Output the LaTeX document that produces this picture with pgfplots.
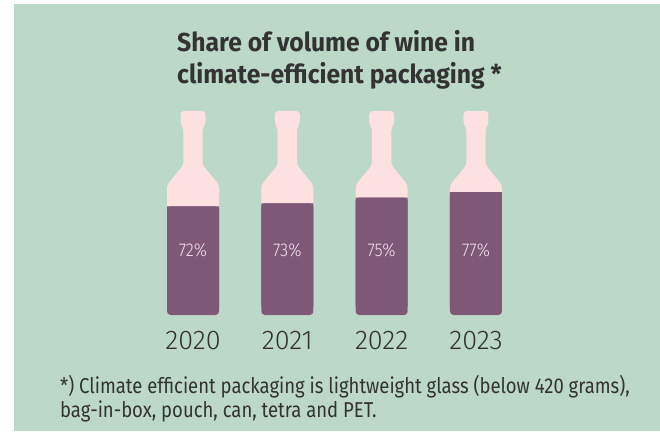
\documentclass[border=0pt]{standalone}
\usepackage{pgfplots}
\usepackage{pgfplotstable}
\pgfplotsset{compat=1.18}
\usepackage{fontspec}
\setmainfont{Fira Sans}[FakeStretch=0.86]
\newfontfamily\titlefont{Fira Sans}[FakeStretch=0.95]
\newfontfamily\lightfont{Fira Sans Light}
\newfontfamily\lightcfont{Fira Sans Light}[FakeStretch=0.9]
\definecolor{bgmint}{RGB}{188,216,201}
\definecolor{bpink}{RGB}{253,225,225}
\definecolor{wine}{RGB}{127,88,120}
\definecolor{txt}{RGB}{51,51,51}
\definecolor{lbl}{RGB}{243,227,234}

\pgfplotstableread{
idx share
0 72
1 73
2 75
3 77
}\shares

\pgfplotstableread{
dx u
0 0
0.2756 0
0.2756 45.5
0.1028 52.4
0.1028 65.8
0.1325 66.6
0.1325 71.3
-0.1325 71.3
-0.1325 66.6
-0.1028 65.8
-0.1028 52.4
-0.2756 45.5
-0.2756 0
0 0
}\bottle

\pgfplotsset{bottleaxis/.style={
  x=94.33pt, y=2.86pt, xmin=-1, xmax=4, ymax=75,
  axis line style={draw=none}, major tick length=0pt,
  ytick=\empty, xtick={0,1,2,3},
}}

\begin{document}
\begin{tikzpicture}
\fill[white] (0,0) rectangle (660pt,431pt);
\fill[bgmint] (14pt,0) rectangle (660pt,427pt);

\node[anchor=base west, text=txt, font=\titlefont\fontsize{26}{30}\selectfont\bfseries, inner sep=0] at (177pt,379pt) {Share of volume of wine in};
\node[anchor=base west, text=txt, font=\titlefont\fontsize{26}{30}\selectfont\bfseries, inner sep=0] at (177pt,347pt) {climate-efficient packaging *};

\begin{axis}[bottleaxis, anchor=south west, at={(98.67pt,116pt)}, ymin=0, clip=false,
  xticklabels={2020,2021,2022,2023},
  xticklabel style={font=\lightfont\fontsize{27}{30}\selectfont, text=txt, anchor=base, yshift=-34pt, inner sep=0}]
\pgfplotsinvokeforeach{0,1,2,3}{
  \addplot[fill=bpink, draw=none, rounded corners=3.5pt] table[x expr=\thisrow{dx}+#1, y=u]{\bottle};
}
\addplot[ybar, bar shift=0pt, bar width=52pt, fill=wine, draw=none, rounded corners=3.5pt]
  table[x=idx, y expr=\thisrow{share}-34]{\shares};
\end{axis}

\begin{axis}[bottleaxis, anchor=south west, at={(98.67pt,124.58pt)}, ymin=3, clip=true,
  xticklabels={}]
\addplot[ybar, bar shift=0pt, bar width=52pt, fill=wine, draw=none]
  table[x=idx, y expr=\thisrow{share}-34]{\shares};
\addplot[draw=none, mark=none, point meta=explicit,
  nodes near coords={\pgfmathprintnumber[assume math mode=true]{\pgfplotspointmeta}\%},
  every node near coord/.style={anchor=center, text=lbl, font=\lightcfont\fontsize{18.5}{20}\selectfont}]
  table[x=idx, y expr=22.7, meta=share]{\shares};
\end{axis}

\node[anchor=base west, text=txt, font=\fontsize{21.5}{24}\selectfont, inner sep=0] at (60pt,38pt) {*) Climate efficient packaging is lightweight glass (below 420 grams),};
\node[anchor=base west, text=txt, font=\fontsize{21.5}{24}\selectfont, inner sep=0] at (60pt,14pt) {bag-in-box, pouch, can, tetra and PET.};
\end{tikzpicture}
\end{document}
